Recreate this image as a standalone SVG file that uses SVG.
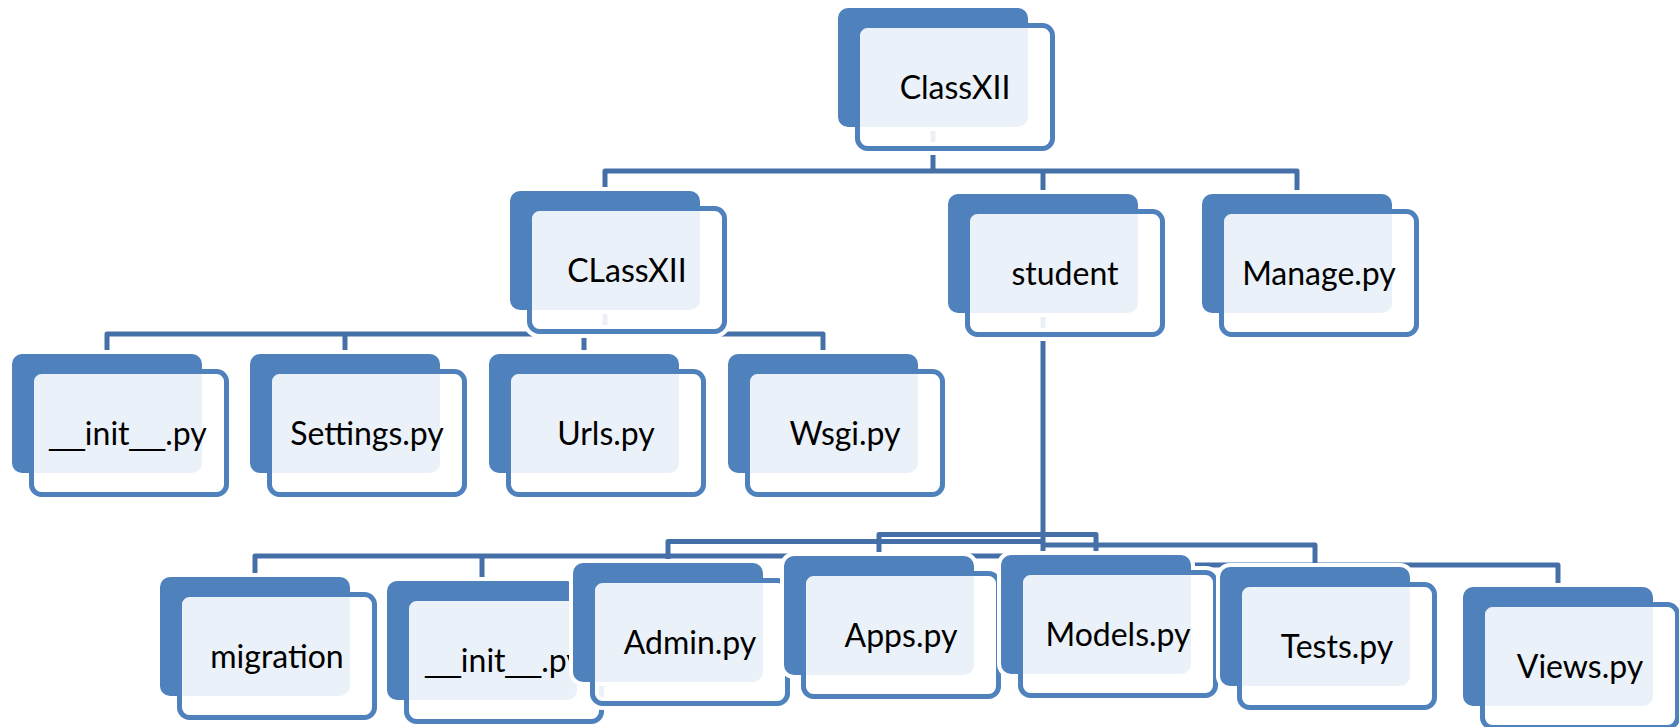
<svg xmlns="http://www.w3.org/2000/svg" width="1679" height="727" viewBox="0 0 1679 727">
<style>
.c{fill:none;stroke:#4570A7;stroke-width:5;stroke-linejoin:round}
.hb{fill:none;stroke:#fff;stroke-width:8}
.hf{fill:none;stroke:#fff;stroke-width:13}
.b{fill:#4F81BD}
.f{fill:#fff;fill-opacity:0.89;stroke:#4F81BD;stroke-width:5}
.t{font-family:Lato,"Open Sans","Liberation Sans",sans-serif;font-size:32px;fill:#000;text-anchor:middle}
.u{font-family:"Liberation Sans",Arial,sans-serif}
</style>
<defs>
<g id="box">
<rect class="hb" x="0" y="0" width="190" height="119" rx="10"/>
<rect class="hf" x="19.5" y="17.5" width="195" height="123" rx="10"/>
<rect class="b" x="0" y="0" width="190" height="119" rx="10"/>
<rect class="f" x="19.5" y="17.5" width="195" height="123" rx="10"/>
</g>
</defs>
<rect width="1679" height="727" fill="#fff"/>
<g id="connectors">
<path class="c" d="M933,127 V171 M605,191 V171 H1297 V194 M1043,171 V194"/>
<path class="c" d="M605,310 V334 M107,354 V334 H823 V354 M345,334 V354 M584,334 V354"/>
<path class="c" d="M1043,313 V565"/>
<path class="c" d="M879,556 V534.5 H1096 V555"/>
<path class="c" d="M668,563 V541.5 H1043"/>
<path class="c" d="M1043,545 H1315 V567"/>
<path class="c" d="M255,577 V556 H1043 M482,581 V556"/>
<path class="c" d="M1043,565 H1558 V587"/>
</g>
<g id="n-classxii-root"><use href="#box" x="838" y="8"/><text class="t" x="955" y="98.5">ClassXII</text></g>
<g id="n-classxii"><use href="#box" x="510" y="191"/><text class="t" x="627" y="281.5">CLassXII</text></g>
<g id="n-student"><use href="#box" x="948" y="194"/><text class="t" x="1065" y="284.5">student</text></g>
<g id="n-manage"><use href="#box" x="1202" y="194"/><text class="t" x="1319" y="284.5">Manage.py</text></g>
<g id="n-init1"><use href="#box" x="12" y="354"/><text class="t" x="128" y="444.5"><tspan class="u">__</tspan>init<tspan class="u">__</tspan>.py</text></g>
<g id="n-settings"><use href="#box" x="250" y="354"/><text class="t" x="367" y="444.5">Settings.py</text></g>
<g id="n-urls"><use href="#box" x="489" y="354"/><text class="t" x="606" y="444.5">Urls.py</text></g>
<g id="n-wsgi"><use href="#box" x="728" y="354"/><text class="t" x="845" y="444.5">Wsgi.py</text></g>
<g id="n-migration"><use href="#box" x="160" y="577"/><text class="t" x="277" y="667.5">migration</text></g>
<g id="n-init2"><use href="#box" x="387" y="581"/><text class="t" x="504" y="671.5"><tspan class="u">__</tspan>init<tspan class="u">__</tspan>.py</text></g>
<g id="n-admin"><use href="#box" x="573" y="563"/><text class="t" x="690" y="653.5">Admin.py</text></g>
<g id="n-apps"><use href="#box" x="784" y="556"/><text class="t" x="901" y="646.5">Apps.py</text></g>
<g id="n-models"><use href="#box" x="1001" y="555"/><text class="t" x="1118" y="645.5">Models.py</text></g>
<g id="n-tests"><use href="#box" x="1220" y="567"/><text class="t" x="1337" y="657.5">Tests.py</text></g>
<g id="n-views"><use href="#box" x="1463" y="587"/><text class="t" x="1580" y="677.5">Views.py</text></g>
</svg>
